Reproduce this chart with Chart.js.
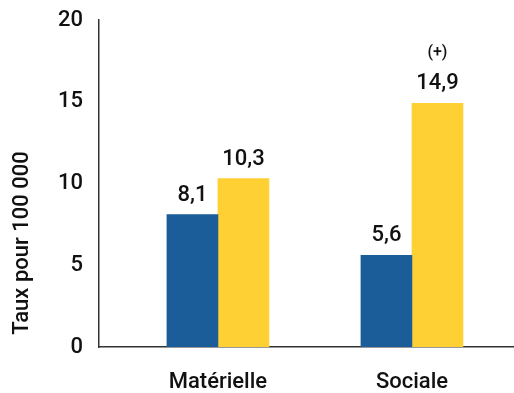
<!DOCTYPE html>
<html>
<head>
<meta charset="utf-8">
<script src="https://cdn.jsdelivr.net/npm/chart.js@4"></script>
<style>
  html, body { margin: 0; padding: 0; background: #fff; }
  #wrap { width: 514px; height: 393px; }
</style>
</head>
<body>
<div id="wrap"><canvas id="chart"></canvas></div>
<script>
  const categories = ["Matérielle", "Sociale"];
  const blueValues = [8.1, 5.6];
  const yellowValues = [10.3, 14.9];
  const yellowNotes = ["", "(+)"];
  const yTicks = [0, 5, 10, 15, 20];
  const yTitle = "Taux pour 100 000";

  const COLORS = {
    bleu: "#1a5d99",
    jaune: "#ffd034",
    texte: "#111111",
    axe: "#333333"
  };
  const FONT = "Roboto, 'Noto Sans', sans-serif";

  function points(values) {
    return values.map((v, i) => ({ x: i + 1, y: v }));
  }

  const valueLabels = {
    id: "valueLabels",
    afterDatasetsDraw(chart) {
      const { ctx } = chart;
      ctx.save();
      ctx.fillStyle = COLORS.texte;
      ctx.textAlign = "center";
      ctx.textBaseline = "alphabetic";
      chart.data.datasets.forEach((ds, di) => {
        const meta = chart.getDatasetMeta(di);
        meta.data.forEach((bar, i) => {
          const txt = String(ds.data[i].y).replace(".", ",");
          ctx.font = "500 22px " + FONT;
          ctx.fillText(txt, bar.x, bar.y - 14);
          const note = ds.notes ? ds.notes[i] : "";
          if (note) {
            ctx.font = "500 16px " + FONT;
            ctx.fillText(note, bar.x, bar.y - 46);
          }
        });
      });
      ctx.restore();
    }
  };

  const axisTitle = {
    id: "axisTitle",
    afterDraw(chart) {
      const { ctx } = chart;
      ctx.save();
      ctx.translate(22, 243);
      ctx.rotate(-Math.PI / 2);
      ctx.font = "500 22px " + FONT;
      ctx.fillStyle = COLORS.texte;
      ctx.textAlign = "center";
      ctx.textBaseline = "middle";
      ctx.fillText(yTitle, 0, 0);
      ctx.restore();
    }
  };

  new Chart(document.getElementById("chart"), {
    type: "bar",
    data: {
      datasets: [
        {
          label: "Bleu",
          data: points(blueValues),
          backgroundColor: COLORS.bleu,
          barThickness: 51
        },
        {
          label: "Jaune",
          data: points(yellowValues),
          notes: yellowNotes,
          backgroundColor: COLORS.jaune,
          barThickness: 51
        }
      ]
    },
    options: {
      responsive: true,
      maintainAspectRatio: false,
      animation: false,
      layout: { padding: { top: 20, right: 0, left: 0, bottom: 0 } },
      plugins: {
        legend: { display: false },
        tooltip: { enabled: false }
      },
      scales: {
        x: {
          type: "linear",
          offset: false,
          min: 0.387,
          max: 2.526,
          grid: { display: false, drawTicks: false },
          border: { display: true, color: COLORS.axe, width: 1.5 },
          afterBuildTicks(scale) {
            scale.ticks = categories.map((c, i) => ({ value: i + 1 }));
          },
          afterFit(scale) {
            scale.height = 46;
            scale.paddingLeft = 0;
            scale.paddingRight = 0;
          },
          ticks: {
            autoSkip: false,
            maxRotation: 0,
            padding: 22,
            color: COLORS.texte,
            font: { family: FONT, size: 22, weight: 500 },
            callback: (v) => categories[v - 1]
          }
        },
        y: {
          min: 0,
          max: 20,
          grid: { display: false, drawTicks: false },
          border: { display: true, color: COLORS.axe, width: 1.5 },
          afterBuildTicks(scale) {
            scale.ticks = yTicks.map((v) => ({ value: v }));
          },
          afterFit(scale) {
            scale.width = 99;
            scale.paddingTop = 0;
            scale.paddingBottom = 0;
          },
          ticks: {
            padding: 16,
            color: COLORS.texte,
            font: { family: FONT, size: 22, weight: 500 }
          }
        }
      }
    },
    plugins: [valueLabels, axisTitle]
  });
</script>
</body>
</html>
